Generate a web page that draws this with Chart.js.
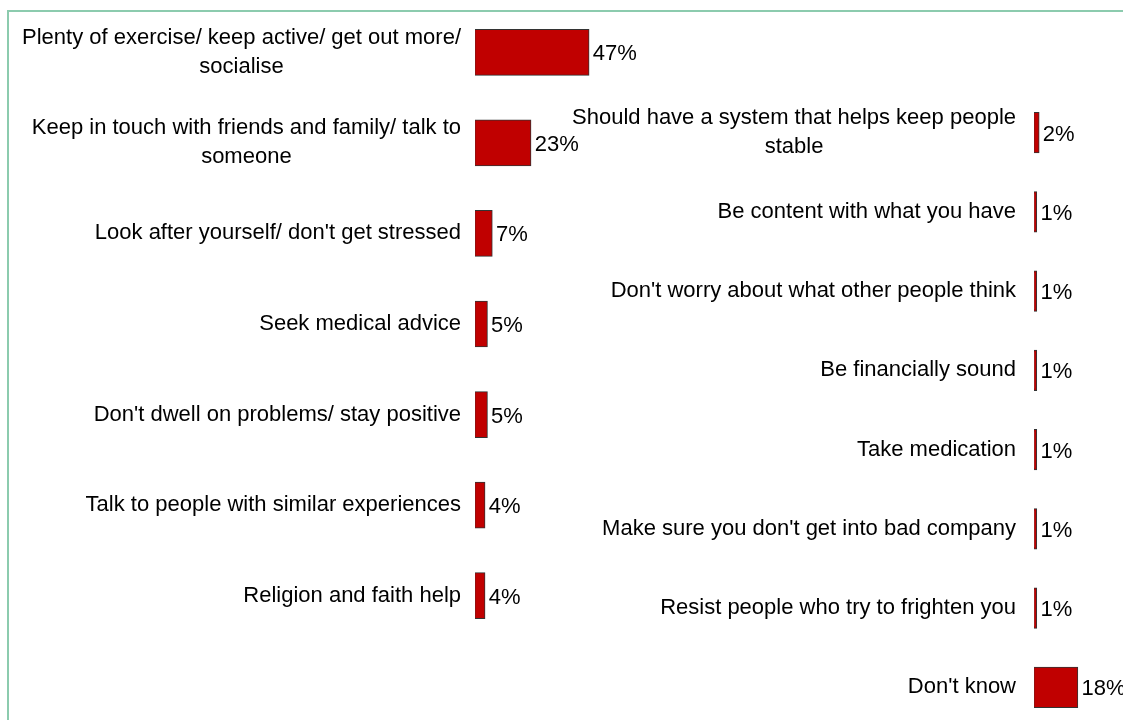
<!DOCTYPE html>
<html>
<head>
    <meta charset="utf-8">
    <script src="https://cdn.jsdelivr.net/npm/chart.js@4.4.0/dist/chart.umd.min.js"></script>
    <style>
        html, body { margin: 0; padding: 0; background: #fff; overflow: hidden; }
        #wrap { position: relative; width: 1123px; height: 720px; overflow: hidden; }
        #frame {
            position: absolute; left: 7px; top: 10px; width: 1130px; height: 730px;
            border-left: 2px solid #8ccbae; border-top: 2px solid #8ccbae;
        }
        canvas { position: absolute; left: 0; top: 0; }
    </style>
</head>
<body>
    <div id="wrap">
        <div id="frame"></div>
        <canvas id="leftChart" width="1123" height="720"></canvas>
        <canvas id="rightChart" width="1123" height="740"></canvas>
    </div>
    <script>
        // left column
        const leftLabels = [
            ["Plenty of exercise/ keep active/ get out more/", "socialise"],
            ["Keep in touch with friends and family/ talk to", "someone"],
            "Look after yourself/ don't get stressed",
            "Seek medical advice",
            "Don't dwell on problems/ stay positive",
            "Talk to people with similar experiences",
            "Religion and faith help"
        ];
        const leftValues = [47, 23, 7, 5, 5, 4, 4];

        // right column
        const rightLabels = [
            ["Should have a system that helps keep people", "stable"],
            "Be content with what you have",
            "Don't worry about what other people think",
            "Be financially sound",
            "Take medication",
            "Make sure you don't get into bad company",
            "Resist people who try to frighten you",
            "Don't know"
        ];
        const rightValues = [2, 1, 1, 1, 1, 1, 1, 18];

        const FONT = '22px "Liberation Sans", Arial, sans-serif';
        const LINE_H = 29;

        const labelPlugin = {
            id: 'labels',
            afterDraw: function (chart, args, opts) {
                const ctx = chart.ctx;
                const ys = chart.scales.y;
                const meta = chart.getDatasetMeta(0);
                const labels = chart.data.labels;
                const values = chart.data.datasets[0].data;
                const gap = opts.gap || 15;
                ctx.save();
                ctx.font = FONT;
                ctx.fillStyle = '#000';
                ctx.textBaseline = 'middle';
                for (let i = 0; i < labels.length; i++) {
                    const lines = Array.isArray(labels[i]) ? labels[i] : [labels[i]];
                    const y = ys.getPixelForValue(i);
                    let maxW = 0;
                    lines.forEach(l => { maxW = Math.max(maxW, ctx.measureText(l).width); });
                    const cx = chart.chartArea.left - gap - maxW / 2;
                    ctx.textAlign = 'center';
                    lines.forEach((l, j) => {
                        ctx.fillText(l, cx, y + (j - (lines.length - 1) / 2) * LINE_H);
                    });
                    const bar = meta.data[i];
                    ctx.textAlign = 'left';
                    ctx.fillText(values[i] + '%', bar.x + 4, bar.y + 2);
                }
                ctx.restore();
            }
        };

        function makeChart(id, labels, values, max, padding, gap) {
            return new Chart(document.getElementById(id).getContext('2d'), {
                type: 'bar',
                data: {
                    labels: labels,
                    datasets: [{
                        data: values,
                        backgroundColor: '#c00000',
                        borderColor: '#333333',
                        borderWidth: 1,
                        borderSkipped: false,
                        inflateAmount: 0.7,
                        categoryPercentage: 1,
                        barPercentage: 0.5
                    }]
                },
                options: {
                    indexAxis: 'y',
                    responsive: false,
                    animation: false,
                    layout: { padding: padding },
                    plugins: {
                        legend: { display: false },
                        tooltip: { enabled: false },
                        labels: { gap: gap }
                    },
                    scales: {
                        x: { display: false, min: 0, max: max },
                        y: { display: false }
                    }
                },
                plugins: [labelPlugin]
            });
        }

        makeChart('leftChart', leftLabels, leftValues, 50, { left: 475, right: 527, top: 7, bottom: 79 }, 14);
        makeChart('rightChart', rightLabels, rightValues, 36, { left: 1034, right: 2, top: 93, bottom: 13 }, 18);
    </script>
</body>
</html>
